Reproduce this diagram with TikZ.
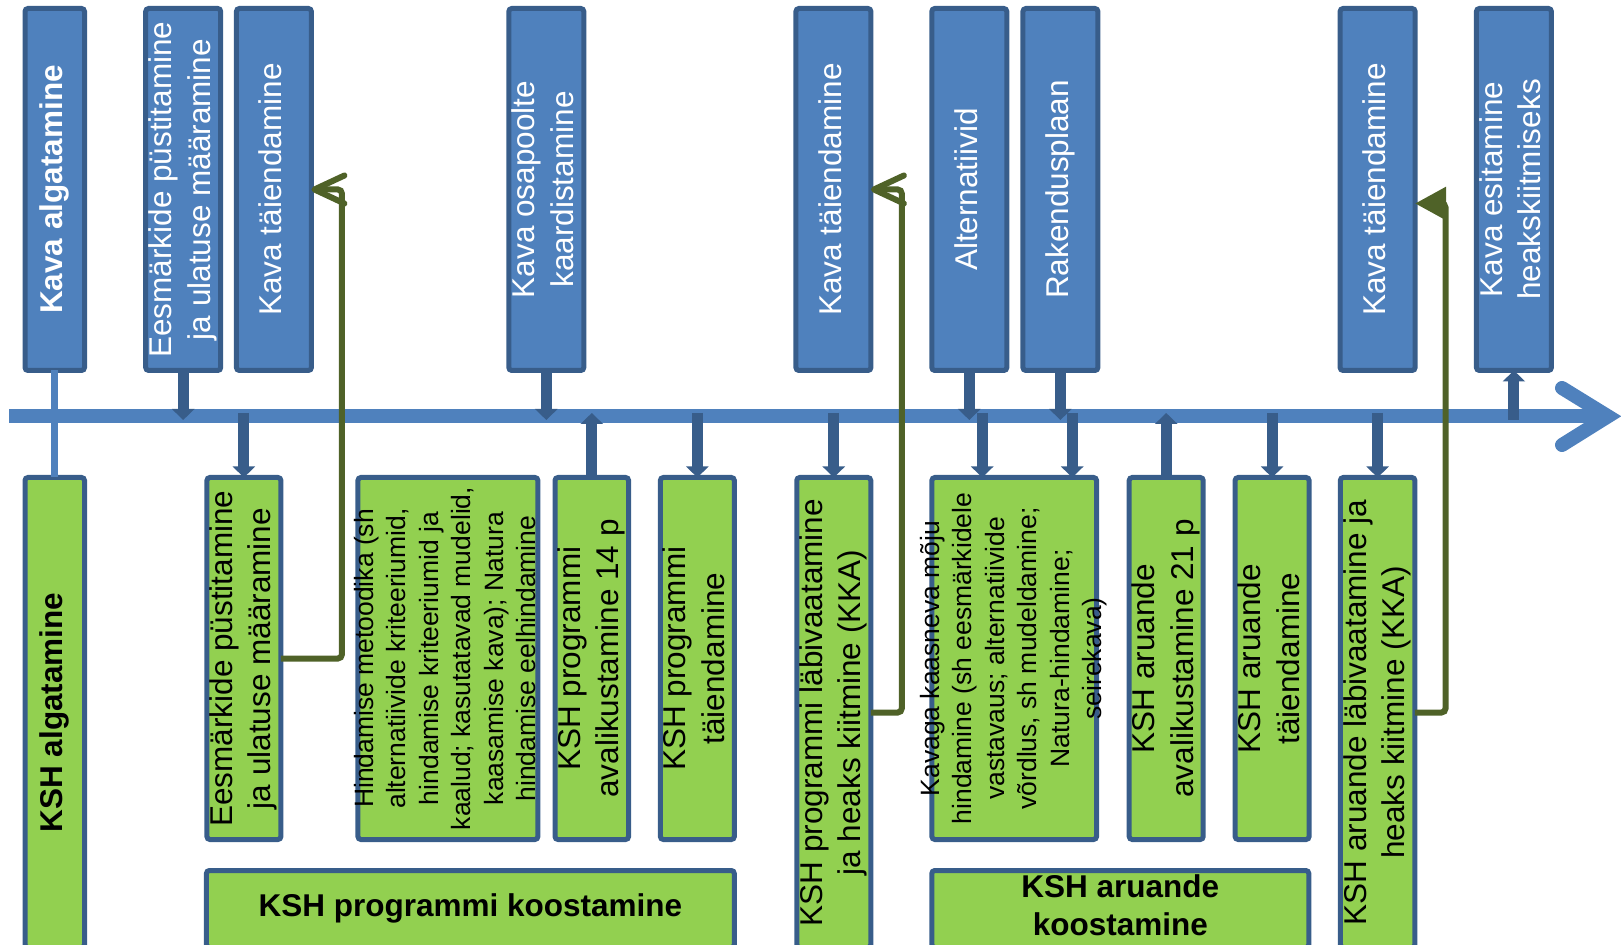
\documentclass[tikz,border=0pt]{standalone}
\usepackage{fontspec}
\setmainfont{Liberation Sans}
\usetikzlibrary{arrows.meta,calc}
\definecolor{blu}{HTML}{4F81BD}
\definecolor{bdr}{HTML}{385D8A}
\definecolor{grn}{HTML}{92D050}
\definecolor{olv}{HTML}{4F6228}
\newcommand{\boxtext}[1]{\vbox to 0pt{\vss\hbox{\begin{tabular}{@{}c@{}}#1\end{tabular}}\vss}}
\tikzset{
  bigtext/.style={font=\fontsize{15.75}{19.25}\selectfont},
  boldtext/.style={font=\fontsize{15.75}{19.25}\selectfont\bfseries},
  smalltext/.style={font=\fontsize{13.25}{16.25}\selectfont},
  stagebox/.style={draw=bdr,line width=2.5pt,rounded corners=1.5pt,inner sep=0pt,outer sep=0pt,bigtext},
  topbox/.style={stagebox,rotate=90,fill=blu,text=white,minimum width=181pt,minimum height=37.5pt},
  botbox/.style={stagebox,rotate=90,fill=grn,text=black,minimum width=181pt,minimum height=37pt},
  tallbox/.style={botbox,minimum width=235pt},
  widebox/.style={stagebox,fill=grn,text=black,minimum height=38.5pt,boldtext},
  axisline/.style={draw=blu,line width=7pt},
  blueline/.style={draw=blu,line width=3.5pt},
  darr/.style={draw=bdr,line width=5.5pt,-{Triangle[width=11pt,length=5.5pt]}},
  fbarb/.style={draw=olv,line width=3pt,rounded corners=2pt,-{Straight Barb[length=15pt,width=14pt,round]}},
  ftri/.style={fbarb,-{Triangle[length=15.5pt,width=16pt]}}
}
\begin{document}
\begin{tikzpicture}[x=0.5pt,y=-0.5pt]
  \useasboundingbox (0,0) rectangle (1621,945);
  \clip (0,0) rectangle (1621,945);
  % top row
  \node[topbox,boldtext,minimum height=29.75pt] (T1) at (54.75,189.5) {\boxtext{Kava algatamine}};
  \node[topbox] (T2) at (183.2,189.5) {\boxtext{Eesmärkide püstitamine\\ja ulatuse määramine}};
  \node[topbox] (T3) at (273.9,189.5) {\boxtext{Kava täiendamine}};
  \node[topbox] (T4) at (546.3,189.5) {\boxtext{Kava osapoolte\\kaardistamine}};
  \node[topbox] (T5) at (833.4,189.5) {\boxtext{Kava täiendamine}};
  \node[topbox] (T6) at (969.3,189.5) {\boxtext{Alternatiivid}};
  \node[topbox] (T7) at (1060.4,189.5) {\boxtext{Rakendusplaan}};
  \node[topbox] (T8) at (1377.6,189.5) {\boxtext{Kava täiendamine}};
  \node[topbox] (T9) at (1513.9,189.5) {\boxtext{Kava esitamine\\heakskiitmiseks}};
  % bottom row
  \node[tallbox,boldtext,minimum height=29.75pt] (B1) at (54.75,712.5) {\boxtext{KSH algatamine}};
  \node[botbox] (B2) at (243.9,658.5) {\boxtext{Eesmärkide püstitamine\\ja ulatuse määramine}};
  \node[botbox,smalltext,minimum height=90pt] (B3) at (447.9,658.5) {\boxtext{Hindamise metoodika (sh\\alternatiivide kriteeriumid,\\hindamise kriteeriumid ja\\kaalud; kasutatavad mudelid,\\kaasamise kava); Natura\\hindamise eelhindamine}};
  \node[botbox,minimum height=36.8pt] (B4) at (591.8,658.5) {\boxtext{KSH programmi\\avalikustamine 14 p}};
  \node[botbox] (B5) at (697.35,658.5) {\boxtext{KSH programmi\\täiendamine}};
  \node[tallbox] (B6) at (833.75,712.5) {\boxtext{KSH programmi läbivaatamine\\ja heaks kiitmine (KKA)}};
  \node[botbox,smalltext,minimum height=82.35pt] (B7) at (1014.2,658.5) {\boxtext{Kavaga kaasneva mõju\\hindamine (sh eesmärkidele\\vastavaus; alternatiivide\\võrdlus, sh mudeldamine;\\Natura-hindamine;\\seirekava)}};
  \node[botbox] (B8) at (1166.2,658.5) {\boxtext{KSH aruande\\avalikustamine 21 p}};
  \node[botbox] (B9) at (1272.1,658.5) {\boxtext{KSH aruande\\täiendamine}};
  \node[tallbox,minimum height=37.3pt] (B10) at (1377.6,712.5) {\boxtext{KSH aruande läbivaatamine ja\\heaks kiitmine (KKA)}};
  \node[widebox,minimum width=263.95pt] (K1) at (470.35,909) {\boxtext{KSH programmi koostamine}};
  \node[widebox,minimum width=188.5pt] (K2) at (1120.3,909) {\boxtext{KSH aruande\\koostamine}};
  % time line
  \coordinate (L0) at (9,416.3);
  \coordinate (L1) at (1608,416.3);
  \coordinate (A1) at (1562,388);
  \coordinate (A2) at (1562,445);
  \coordinate (LA) at (0,420);
  \coordinate (LB) at (0,413);
  \coordinate (B7a) at ($(B7.east)+(-32,0)$);
  \coordinate (B7b) at ($(B7.east)+(58,0)$);
  \draw[blueline] (T1.west) -- (B1.east);
  \draw[axisline] (L0) -- (L1);
  \draw[axisline,line cap=round,line join=miter] (A1) -- (L1) -- (A2);
  \draw[darr] (T2.west) -- (T2.west |- LA);
  \draw[darr] (B2.east |- LB) -- (B2.east);
  \draw[darr] (T4.west) -- (T4.west |- LA);
  \draw[darr] (B4.east) -- (B4.east |- LB);
  \draw[darr] (B5.east |- LB) -- (B5.east);
  \draw[darr] (B6.east |- LB) -- (B6.east);
  \draw[darr] (T6.west) -- (T6.west |- LA);
  \draw[darr] (T7.west) -- (T7.west |- LA);
  \draw[darr] (B7a |- LB) -- (B7a);
  \draw[darr] (B7b |- LB) -- (B7b);
  \draw[darr] (B8.east) -- (B8.east |- LB);
  \draw[darr] (B9.east |- LB) -- (B9.east);
  \draw[darr] (B10.east |- LB) -- (B10.east);
  \draw[darr] (T9.west |- LA) -- (T9.west);
  % feedback
  \draw[fbarb] (B2.south) -- ++(61,0) |- (T3.south);
  \draw[fbarb] (B6.south) -- ++(31,0) |- (T5.south);
  \draw[ftri] (B10.south) -- ++(30.6,0) |- ($(T8.south)+(0,14)$);
\end{tikzpicture}
\end{document}
